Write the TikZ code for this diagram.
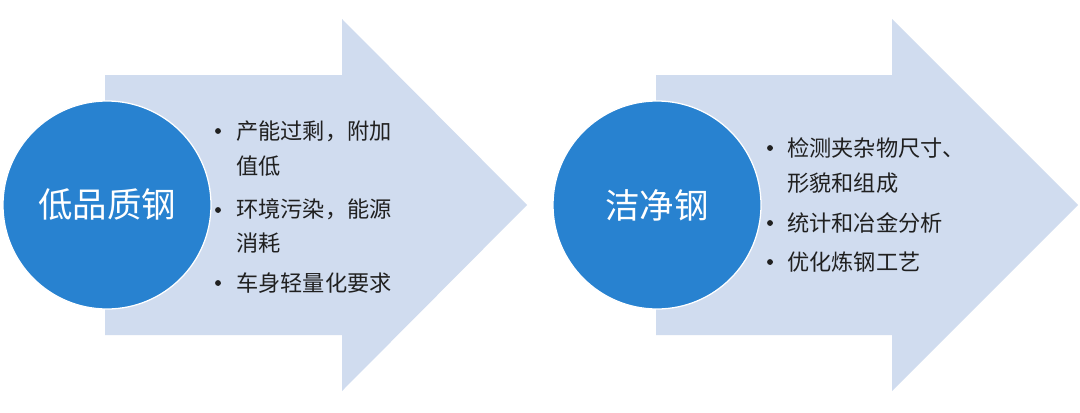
\documentclass[tikz,border=0pt]{standalone}
\usepackage{fontspec}
\newfontfamily\cjk{Noto Sans CJK SC}
\usetikzlibrary{positioning}
\definecolor{stlBand}{RGB}{208,220,239}
\definecolor{stlBlue}{RGB}{40,130,208}
\definecolor{stlInk}{RGB}{32,32,32}

\begin{document}
\begin{tikzpicture}[x=1cm,y=1cm]
\tikzset{
band/.style={fill=stlBand,draw=none},
disc/.style={circle,fill=stlBlue,draw=white,line width=.9pt,minimum size=5.2cm,inner sep=0pt,
font=\cjk\fontsize{24.5}{28}\selectfont,text=white},
item/.style={anchor=west,inner sep=0pt,align=left,font=\cjk\fontsize{15.8}{24.8}\selectfont,text=stlInk},
dot/.style={circle,fill=stlInk,inner sep=0pt,minimum size=4.2pt}
}
\fill[white] (0,-5.175) rectangle (27,5.125);
\useasboundingbox (0,-5.175) rectangle (27,5.125);

% arrows
\fill[band] (2.625,-3.25) -- (2.625,3.25) -- (8.55,3.25) -- (8.55,4.65) -- (13.175,0)
  -- (8.55,-4.65) -- (8.55,-3.25) -- cycle;
\fill[band] (16.4,-3.25) -- (16.4,3.25) -- (22.3,3.25) -- (22.3,4.65) -- (26.95,0)
  -- (22.3,-4.65) -- (22.3,-3.25) -- cycle;

% left stage
\node[disc] (low) at (2.675,0) {低品质钢};
\node[item] (low1) at (5.9,1.4125) {产能过剩，附加\\值低};
\node[item] (low2) at (5.9,-.525) {环境污染，能源\\消耗};
\node[item] (low3) at (5.9,-1.95) {车身轻量化要求};
\foreach \y/\n in {1.85/1,-.125/2,-1.95/3}
  \node[dot] (lowdot\n) at (5.45,\y) {};

% right stage
\node[disc] (clean) at (16.425,0) {洁净钢};
\node[item] (clean1) at (19.675,.9875) {检测夹杂物尺寸、\\形貌和组成};
\node[item] (clean2) at (19.675,-.45) {统计和冶金分析};
\node[item] (clean3) at (19.675,-1.425) {优化炼钢工艺};
\foreach \y/\n in {1.425/1,-.45/2,-1.425/3}
  \node[dot] (cleandot\n) at (19.25,\y) {};
\end{tikzpicture}
\end{document}
